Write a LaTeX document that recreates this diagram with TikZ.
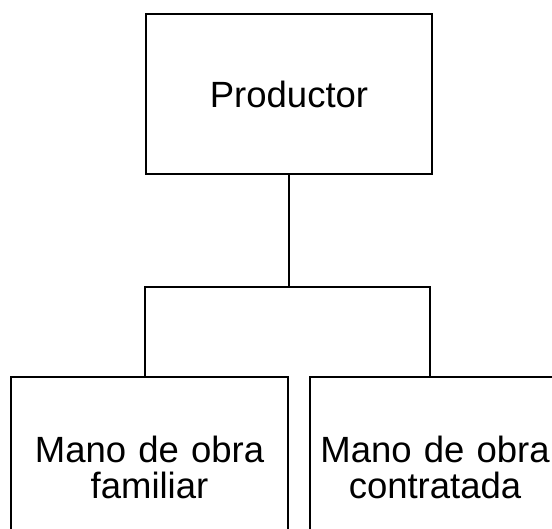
\documentclass[tikz,border=0pt]{standalone}
\usepackage{fontspec}
\setmainfont{Liberation Sans}
\begin{document}
\begin{tikzpicture}[x=1pt,y=1pt,
  box/.style={draw=black,line width=1.7pt,inner sep=0pt,align=center,
    font=\fontsize{36.5}{36.5}\selectfont},
  link/.style={draw=black,line width=1.7pt}]
\useasboundingbox (0,0) rectangle (552,529);
\clip (0,0) rectangle (552,529);
\node[box,minimum width=286pt,minimum height=160pt] (top) at (289,435) {Productor};
\node[box,minimum width=277pt,minimum height=181pt,text width=270pt] (lb) at (149.5,61.5) {Mano de obra\\familiar};
\node[box,minimum width=250pt,minimum height=181pt,text width=245pt] (rb) at (435,61.5) {Mano de obra\\contratada};
\coordinate (j) at (289,242);
\coordinate (jl) at (145,242);
\coordinate (jr) at (430,242);
\draw[link] (top.south) -- (j);
\draw[link,line cap=rect] (jl) -- (jr);
\draw[link] (jl) -- (jl |- lb.north);
\draw[link] (jr) -- (jr |- rb.north);
\end{tikzpicture}
\end{document}
